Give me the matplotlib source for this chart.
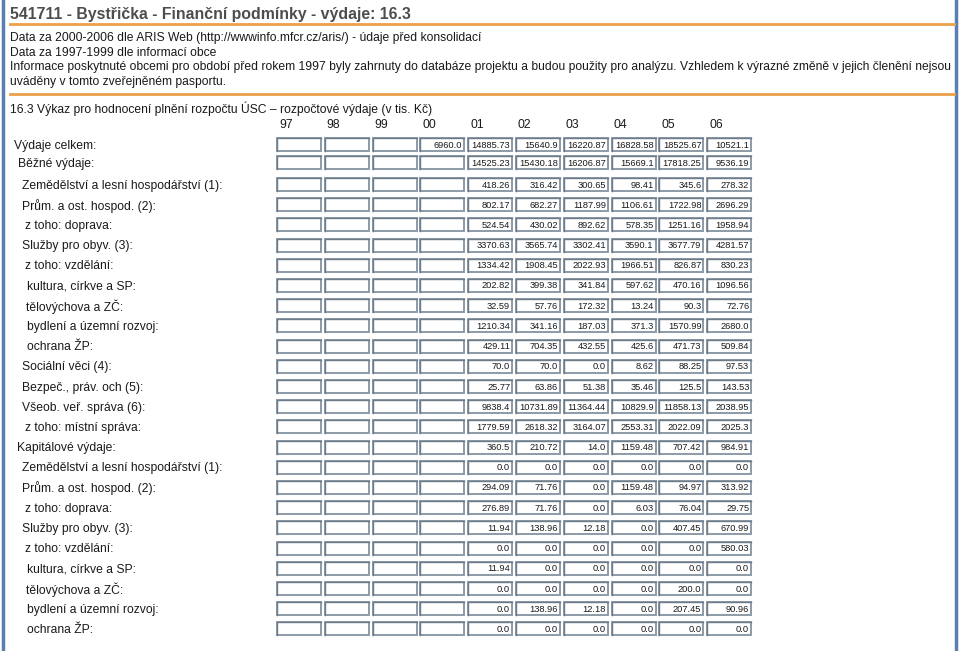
import matplotlib
matplotlib.use("Agg")
import matplotlib.pyplot as plt
from matplotlib.patches import Rectangle

plt.rcParams['font.family'] = ['Liberation Sans', 'DejaVu Sans']

title = "541711 - Bystřička - Finanční podmínky - výdaje: 16.3"
notes = [
    "Data za 2000-2006 dle ARIS Web (http://wwwinfo.mfcr.cz/aris/) - údaje před konsolidací",
    "Data za 1997-1999 dle informací obce",
    "Informace poskytnuté obcemi pro období před rokem 1997 byly zahrnuty do databáze projektu a budou použity pro analýzu. Vzhledem k výrazné změně v jejich členění nejsou",
    "uváděny v tomto zveřejněném pasportu.",
]
subtitle = "16.3 Výkaz pro hodnocení plnění rozpočtu ÚSC – rozpočtové výdaje (v tis. Kč)"

years = ["97", "98", "99", "00", "01", "02", "03", "04", "05", "06"]

labels = [
    "Výdaje celkem:",
    "Běžné výdaje:",
    "Zemědělství a lesní hospodářství (1):",
    "Prům. a ost. hospod. (2):",
    "z toho: doprava:",
    "Služby pro obyv. (3):",
    "z toho: vzdělání:",
    "kultura, církve a SP:",
    "tělovýchova a ZČ:",
    "bydlení a územní rozvoj:",
    "ochrana ŽP:",
    "Sociální věci (4):",
    "Bezpeč., práv. och (5):",
    "Všeob. veř. správa (6):",
    "z toho: místní správa:",
    "Kapitálové výdaje:",
    "Zemědělství a lesní hospodářství (1):",
    "Prům. a ost. hospod. (2):",
    "z toho: doprava:",
    "Služby pro obyv. (3):",
    "z toho: vzdělání:",
    "kultura, církve a SP:",
    "tělovýchova a ZČ:",
    "bydlení a územní rozvoj:",
    "ochrana ŽP:",
]
# left edge of each label (px)
label_x = [14, 18, 22, 22, 25, 22, 25, 27, 26, 27, 27, 22, 22, 22, 25,
           17, 22, 22, 25, 22, 25, 27, 26, 27, 27]

# values per year (97-99 are empty)
y00 = ["6960.0"] + [""] * 24
y01 = ["14885.73", "14525.23", "418.26", "802.17", "524.54", "3370.63", "1334.42",
       "202.82", "32.59", "1210.34", "429.11", "70.0", "25.77", "9838.4", "1779.59",
       "360.5", "0.0", "294.09", "276.89", "11.94", "0.0", "11.94", "0.0", "0.0", "0.0"]
y02 = ["15640.9", "15430.18", "316.42", "682.27", "430.02", "3565.74", "1908.45",
       "399.38", "57.76", "341.16", "704.35", "70.0", "63.86", "10731.89", "2618.32",
       "210.72", "0.0", "71.76", "71.76", "138.96", "0.0", "0.0", "0.0", "138.96", "0.0"]
y03 = ["16220.87", "16206.87", "300.65", "1187.99", "892.62", "3302.41", "2022.93",
       "341.84", "172.32", "187.03", "432.55", "0.0", "51.38", "11364.44", "3164.07",
       "14.0", "0.0", "0.0", "0.0", "12.18", "0.0", "0.0", "0.0", "12.18", "0.0"]
y04 = ["16828.58", "15669.1", "98.41", "1106.61", "578.35", "3590.1", "1966.51",
       "597.62", "13.24", "371.3", "425.6", "8.62", "35.46", "10829.9", "2553.31",
       "1159.48", "0.0", "1159.48", "6.03", "0.0", "0.0", "0.0", "0.0", "0.0", "0.0"]
y05 = ["18525.67", "17818.25", "345.6", "1722.98", "1251.16", "3677.79", "826.87",
       "470.16", "90.3", "1570.99", "471.73", "88.25", "125.5", "11858.13", "2022.09",
       "707.42", "0.0", "94.97", "76.04", "407.45", "0.0", "0.0", "200.0", "207.45", "0.0"]
y06 = ["10521.1", "9536.19", "278.32", "2696.29", "1958.94", "4281.57", "830.23",
       "1096.56", "72.76", "2680.0", "509.84", "97.53", "143.53", "2038.95", "2025.3",
       "984.91", "0.0", "313.92", "29.75", "670.99", "580.03", "0.0", "0.0", "90.96", "0.0"]
empty = [""] * 25
columns = [empty, empty, empty, y00, y01, y02, y03, y04, y05, y06]

fig = plt.figure(figsize=(9.6, 6.51), dpi=100)
ax = fig.add_axes([0, 0, 1, 1])
ax.set_xlim(0, 960)
ax.set_ylim(651, 0)
ax.axis("off")

text_col = "#1a1a1a"
orange = "#eba04a"
blue = "#5b7fb0"
fs = 8.7

# page frame
ax.plot([3, 3], [0, 651], color=blue, lw=2.5)
ax.plot([956, 956], [0, 651], color=blue, lw=2.5)

ax.text(10, 14.5, title, fontsize=11.4, fontweight="bold", color="#4d4d4d", va="center")
ax.plot([10, 954], [24, 24], color=orange, lw=2)
for i, line in enumerate(notes):
    ax.text(10, 38 + i * 14.7, line, fontsize=fs, color=text_col, va="center")
ax.plot([10, 954], [94, 94], color=orange, lw=2)
ax.text(10, 109, subtitle, fontsize=fs, color=text_col, va="center")

box_x0 = 277
pitch = 47.8
box_w = 44
box_h = 13

for j, yr in enumerate(years):
    ax.text(box_x0 + j * pitch + 2, 125.5, yr, fontsize=fs, color=text_col, va="center")


def row_y(i):
    if i == 0:
        return 144.5
    if i == 1:
        return 162.5
    return 184.5 + 20.2 * (i - 2)


for i, lab in enumerate(labels):
    yc = row_y(i)
    ax.text(label_x[i], yc + 1, lab, fontsize=fs, color=text_col, va="center")
    for j, col in enumerate(columns):
        x0 = box_x0 + j * pitch
        ax.add_patch(Rectangle((x0, yc - box_h / 2), box_w, box_h,
                               facecolor="white", edgecolor="#8c9aa8", lw=1.4))
        # darker top/left edge for the inset look
        ax.plot([x0, x0, x0 + box_w], [yc + box_h / 2, yc - box_h / 2, yc - box_h / 2],
                color="#6e7c8a", lw=1.0)
        if col[i]:
            ax.text(x0 + box_w - 2, yc + 0.5, col[i], fontsize=6.7, color=text_col,
                    ha="right", va="center")

fig.savefig("out.png", dpi=100)
